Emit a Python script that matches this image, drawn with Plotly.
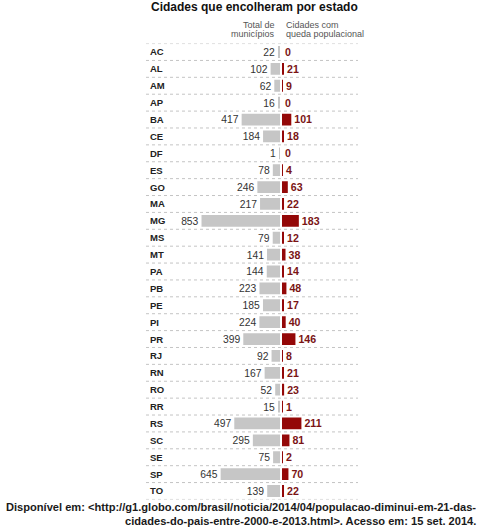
import plotly.graph_objects as go

states = ["AC","AL","AM","AP","BA","CE","DF","ES","GO","MA","MG","MS","MT","PA",
          "PB","PE","PI","PR","RJ","RN","RO","RR","RS","SC","SE","SP","TO"]
total = [22,102,62,16,417,184,1,78,246,217,853,79,141,144,223,185,224,399,92,167,52,15,497,295,75,645,139]
queda = [0,21,9,0,101,18,0,4,63,22,183,12,38,14,48,17,40,146,8,21,23,1,211,81,2,70,22]

title = "Cidades que encolheram por estado"
head_total = ["Total de", "municípios"]
head_queda = ["Cidades com", "queda populacional"]
footer = ["Disponível em: &lt;http://g1.globo.com/brasil/noticia/2014/04/populacao-diminui-em-21-das-",
          "cidades-do-pais-entre-2000-e-2013.html&gt;. Acesso em: 15 set. 2014."]

W, H = 481, 531
S = 0.092  # px per unit
zero_gray = 280
zero_red = 282
gray_left = 140
row_top = 52
row_bot = 491
n = len(states)
step = (row_bot - row_top) / (n - 1)
y_top_px = row_top - step / 2
y_bot_px = row_bot + step / 2

def py(px):
    return 1 - px / H

fig = go.Figure()
fig.add_trace(go.Bar(
    y=states, x=total, orientation="h", xaxis="x", yaxis="y",
    marker=dict(color="#c6c6c6", line=dict(width=0)),
    text=[str(v) for v in total], textposition="outside",
    outsidetextfont=dict(family="Liberation Sans, Arial", size=10.5, color="#333333"),
    cliponaxis=False, hoverinfo="skip",
))
fig.add_trace(go.Bar(
    y=states, x=queda, orientation="h", xaxis="x2", yaxis="y",
    marker=dict(color="#940808", line=dict(width=0)),
    text=["<b>%d</b>" % v for v in queda], textposition="outside",
    outsidetextfont=dict(family="Liberation Sans, Arial", size=10.8, color="#7a1414"),
    cliponaxis=False, hoverinfo="skip",
))

annotations = []
for s in states:
    annotations.append(dict(x=148 / W, xref="paper", y=s, yref="y", text="<b>%s</b>" % s,
                            showarrow=False, xanchor="left", yanchor="middle",
                            font=dict(family="Liberation Sans, Arial", size=9.5, color="#222222")))
annotations.append(dict(x=254 / W, y=py(7), xref="paper", yref="paper", text="<b>%s</b>" % title,
                        showarrow=False, xanchor="center", yanchor="middle",
                        font=dict(family="Liberation Sans, Arial", size=12, color="#111111")))
for i, t in enumerate(head_total):
    annotations.append(dict(x=277 / W, y=py(25 + 9 * i), xref="paper", yref="paper", text=t,
                            showarrow=False, xanchor="right", yanchor="middle",
                            font=dict(family="Liberation Sans, Arial", size=9, color="#555555")))
for i, t in enumerate(head_queda):
    annotations.append(dict(x=284 / W, y=py(25 + 9 * i), xref="paper", yref="paper", text=t,
                            showarrow=False, xanchor="left", yanchor="middle",
                            font=dict(family="Liberation Sans, Arial", size=9, color="#555555")))
for i, t in enumerate(footer):
    annotations.append(dict(x=478 / W, y=py(507 + 14 * i), xref="paper", yref="paper",
                            text="<b>%s</b>" % t, showarrow=False, xanchor="right", yanchor="middle",
                            font=dict(family="Liberation Sans, Arial", size=11.1,
                                      color="#1a1a1a")))

shapes = []
for i in range(n + 1):
    shapes.append(dict(type="line", xref="paper", yref="y", x0=146 / W, x1=358 / W,
                       y0=i - 0.5, y1=i - 0.5, line=dict(color="#c4c4c4", width=1, dash="dot")))

fig.update_layout(
    width=W, height=H, margin=dict(l=0, r=0, t=0, b=0),
    paper_bgcolor="white", plot_bgcolor="rgba(0,0,0,0)",
    showlegend=False, bargap=0.3,
    xaxis=dict(domain=[gray_left / W, zero_gray / W], range=[(zero_gray - gray_left) / S, 0],
               visible=False, fixedrange=True),
    xaxis2=dict(domain=[zero_red / W, 1], range=[0, (W - zero_red) / S], anchor="y",
                visible=False, fixedrange=True),
    yaxis=dict(domain=[1 - y_bot_px / H, 1 - y_top_px / H], type="category",
               categoryorder="array", categoryarray=states,
               range=[n - 0.5, -0.5], visible=False, fixedrange=True),
    annotations=annotations, shapes=shapes,
)
fig.write_html("out.html", config={"displayModeBar": False},
               post_script="document.body.style.margin='0';")
